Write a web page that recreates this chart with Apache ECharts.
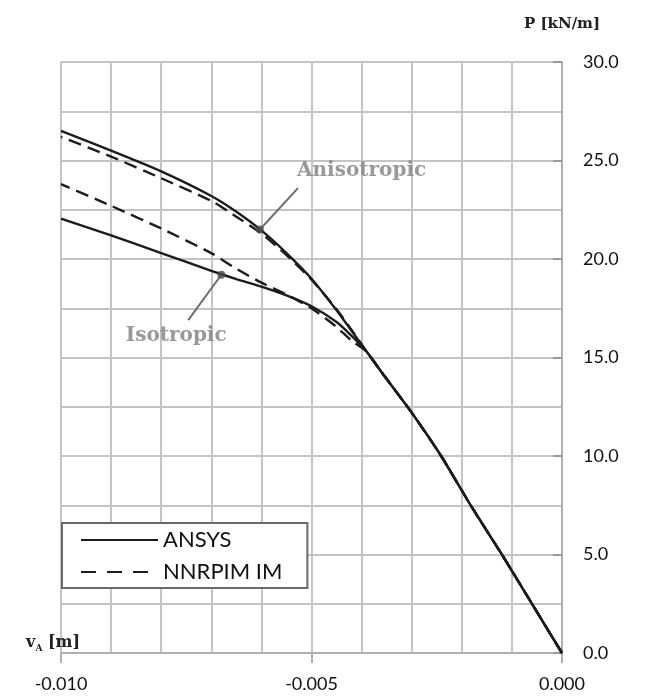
<!DOCTYPE html>
<html>
<head>
<meta charset="utf-8">
<script src="https://cdn.jsdelivr.net/npm/echarts@6/dist/echarts.min.js"></script>
<style>
  html, body { margin: 0; padding: 0; background: #fff; }
  #chart { width: 648px; height: 699px; }
</style>
</head>
<body>
<div id="chart"></div>
<script>
// Load P [kN/m] versus vertical displacement vA [m]
// Shared linear (elastic) branch
const dispElastic = [0, -0.0006, -0.0012, -0.0018, -0.0024, -0.0030, -0.0036, -0.0039];
const loadElastic = [0, 2.5, 5.0, 7.4, 9.95, 12.2, 14.25, 15.3];

// Post-yield branch displacements
const dispPlastic = [-0.0042, -0.0045, -0.0050, -0.0055, -0.0060, -0.0065, -0.0070, -0.0080, -0.0090, -0.0100];
const loadAnsysAniso  = [16.35, 17.4, 19.0, 20.3, 21.45, 22.4, 23.2, 24.45, 25.5, 26.5];
const loadNnrpimAniso = [16.4, 17.45, 18.95, 20.2, 21.3, 22.15, 22.95, 24.1, 25.2, 26.2];
const loadAnsysIso    = [16.1, 16.8, 17.6, 18.15, 18.6, 18.98, 19.4, 20.3, 21.2, 22.05];
const loadNnrpimIso   = [15.85, 16.55, 17.5, 18.2, 18.8, 19.5, 20.3, 21.55, 22.7, 23.8];

// Callouts
const tagText    = ['Anisotropic', 'Isotropic'];
const markerDisp = [-0.00603, -0.0068];
const markerLoad = [21.5, 19.2];
const leaderDisp = [-0.00527, -0.00746];
const leaderLoad = [23.6, 16.9];
const tagDisp    = [-0.0040, -0.0077];
const tagLoad    = [24.5, 16.1];

const xTicks = { min: -0.010, max: 0.000, step: 0.005 };
const yTicks = { min: 0, max: 30, step: 5 };

function curve(plasticLoads) {
  const pts = dispElastic.map((d, i) => [d, loadElastic[i]]);
  dispPlastic.forEach((d, i) => pts.push([d, plasticLoads[i]]));
  return pts;
}

const ink = '#1c1c1c';
const gridColor = '#c4c4c4';
const numFont = 'Lato, "Open Sans", sans-serif';
const serifFont = '"DejaVu Serif", serif';

const solid = { color: ink, width: 2.4, type: 'solid' };
const dashed = { color: ink, width: 2.4, type: [13, 7] };

function lineSeries(name, data, style) {
  return {
    name, type: 'line', data, symbol: 'none', smooth: 0.2,
    lineStyle: style, itemStyle: { color: ink }, z: 3, silent: true
  };
}

const chart = echarts.init(document.getElementById('chart'), null, { renderer: 'canvas' });
chart.setOption({
  animation: false,
  backgroundColor: '#fff',
  grid: { left: 61, right: 86, top: 62, bottom: 46 },
  xAxis: {
    type: 'value', min: xTicks.min, max: xTicks.max, interval: xTicks.step,
    position: 'bottom',
    name: '{v|v}{s|A}{t| [m]}',
    nameLocation: 'start', nameGap: -19,
    nameTextStyle: {
      align: 'right', verticalAlign: 'bottom', padding: [0, 0, 0, 0],
      rich: {
        v: { fontFamily: serifFont, fontWeight: 'bold', fontSize: 16, color: '#222', lineHeight: 20, verticalAlign: 'middle' },
        s: { fontFamily: serifFont, fontWeight: 'bold', fontSize: 9, color: '#222', lineHeight: 10, verticalAlign: 'bottom' },
        t: { fontFamily: serifFont, fontWeight: 'bold', fontSize: 16, color: '#222', lineHeight: 20, verticalAlign: 'middle' }
      }
    },
    axisLine: { onZero: false, lineStyle: { color: '#b0b0b0', width: 2 } },
    axisTick: { show: true, length: 10, lineStyle: { color: '#b0b0b0', width: 2 } },
    axisLabel: { fontFamily: numFont, fontSize: 18, color: '#111', margin: 22,
      formatter: v => v.toFixed(3) },
    splitLine: { lineStyle: { color: gridColor, width: 2 } },
    minorTick: { show: false, splitNumber: 5 },
    minorSplitLine: { show: true, lineStyle: { color: gridColor, width: 2 } }
  },
  yAxis: {
    type: 'value', min: yTicks.min, max: yTicks.max, interval: yTicks.step,
    position: 'right',
    name: 'P [kN/m]', nameLocation: 'end', nameGap: 30,
    nameTextStyle: { fontFamily: serifFont, fontWeight: 'bold', fontSize: 15, color: '#222', align: 'center' },
    axisLine: { show: true, lineStyle: { color: '#b0b0b0', width: 2 } },
    axisTick: { show: true, inside: true, length: 9, lineStyle: { color: '#9a9a9a', width: 2 } },
    axisLabel: { fontFamily: numFont, fontSize: 18, color: '#111', margin: 21,
      formatter: v => v.toFixed(1) },
    splitLine: { lineStyle: { color: gridColor, width: 2 } },
    minorTick: { show: false, splitNumber: 2 },
    minorSplitLine: { show: true, lineStyle: { color: gridColor, width: 2 } }
  },
  legend: {
    left: 62, top: 523, orient: 'vertical',
    data: [
      { name: 'ANSYS' },
      { name: 'NNRPIM IM', lineStyle: { type: [15, 11] } }
    ],
    itemWidth: 77, itemHeight: 14, itemGap: 10,
    padding: [6, 25, 5, 18],
    itemStyle: { color: 'rgba(0,0,0,0)', borderColor: 'rgba(0,0,0,0)', borderWidth: 0, opacity: 0 },
    backgroundColor: '#fff', borderColor: '#6a6a6a', borderWidth: 2, borderRadius: 0,
    textStyle: { fontFamily: numFont, fontSize: 22, color: '#111' },
    selectedMode: false
  },
  series: [
    lineSeries('ANSYS', curve(loadAnsysAniso), solid),
    lineSeries('ANSYS', curve(loadAnsysIso), solid),
    lineSeries('NNRPIM IM', curve(loadNnrpimAniso), dashed),
    lineSeries('NNRPIM IM', curve(loadNnrpimIso), dashed),
    {
      name: 'leaders', type: 'lines', coordinateSystem: 'cartesian2d', silent: true, z: 4,
      lineStyle: { color: '#6e6e6e', width: 2, opacity: 1 },
      data: tagText.map((t, i) => ({ coords: [[markerDisp[i], markerLoad[i]], [leaderDisp[i], leaderLoad[i]]] }))
    },
    {
      name: 'markers', type: 'scatter', silent: true, z: 5,
      symbol: 'circle', symbolSize: 8, itemStyle: { color: '#4a4a4a' },
      data: markerDisp.map((d, i) => [d, markerLoad[i]])
    },
    {
      name: 'tags', type: 'scatter', silent: true, z: 5,
      symbolSize: 0,
      label: {
        show: true, position: 'inside', formatter: p => p.name,
        fontFamily: serifFont, fontWeight: 'bold', fontSize: 20, color: '#808080'
      },
      data: tagText.map((t, i) => ({ name: t, value: [tagDisp[i], tagLoad[i]] }))
    }
  ]
});
</script>
</body>
</html>
